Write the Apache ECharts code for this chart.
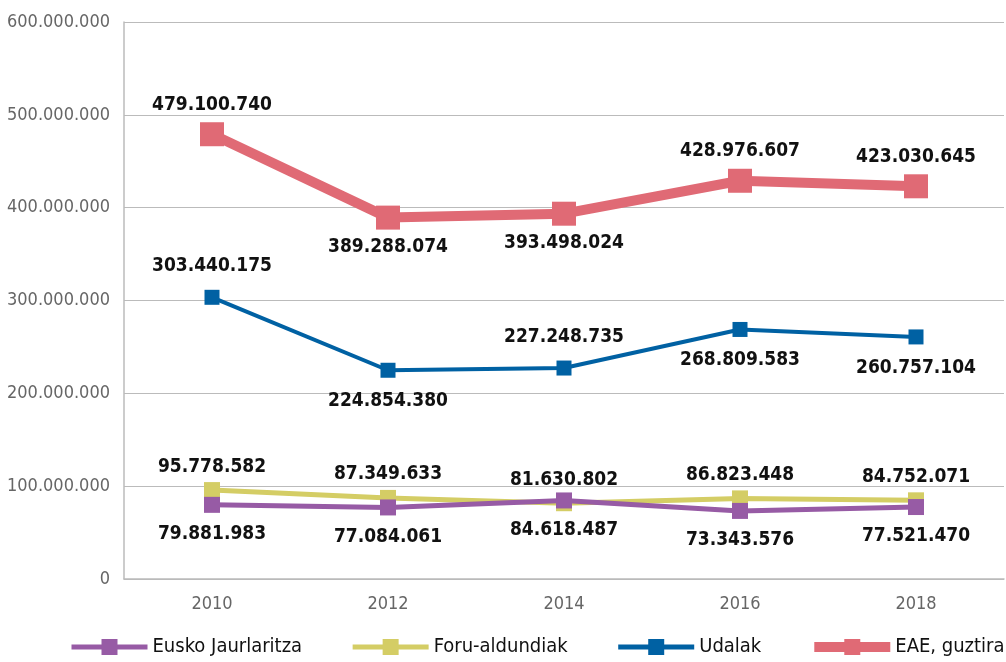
<!DOCTYPE html>
<html>
<head>
	<meta http-equiv="Content-Type" content="text/html;charset=UTF-8">
	<title>EAE</title>
	<script type="text/javascript" src="https://cdn.jsdelivr.net/npm/echarts@6.0.0/dist/echarts.min.js"></script>
	<style>
		html, body { margin: 0; padding: 0; background: #fff; }
		#chart { width: 1006px; height: 662px; }
	</style>
</head>
<body>
	<div id="chart"></div>

	<script type="text/javascript">
		var years = ['2010', '2012', '2014', '2016', '2018'];
		var eusko = [79881983, 77084061, 84618487, 73343576, 77521470];
		var foru = [95778582, 87349633, 81630802, 86823448, 84752071];
		var udalak = [303440175, 224854380, 227248735, 268809583, 260757104];
		var guztira = [479100740, 389288074, 393498024, 428976607, 423030645];
		// where the value labels sit, per point
		var udalakPos = ['top', 'bottom', 'top', 'bottom', 'bottom'];
		var guztiraPos = ['top', 'bottom', 'bottom', 'top', 'top'];

		var font = '"DejaVu Sans Condensed", "DejaVu Sans", sans-serif';

		function dots(v) {
			return String(v).replace(/\B(?=(\d{3})+(?!\d))/g, '.');
		}

		function withPos(values, pos) {
			return values.map(function (v, i) {
				return { value: v, label: { position: pos[i] } };
			});
		}

		function lbl(pos, dist) {
			return {
				show: true,
				position: pos,
				distance: dist,
				fontFamily: font,
				fontWeight: 'bold',
				fontSize: 19,
				color: '#111',
				formatter: function (p) { return dots(p.value); }
			};
		}

		var chart = echarts.init(document.getElementById('chart'));

		var option = {
			animation: false,
			textStyle: { fontFamily: font },
			grid: { left: 124, right: 2, top: 22, bottom: 83 },
			legend: {
				bottom: 0,
				left: 64,
				width: 1400,
				itemWidth: 76,
				itemHeight: 20,
				itemGap: 48,
				textStyle: { fontFamily: font, fontSize: 20, color: '#111' },
				data: [
					{ name: 'Eusko Jaurlaritza', lineStyle: { width: 5 } },
					{ name: 'Foru-aldundiak', lineStyle: { width: 5 } },
					{ name: 'Udalak', lineStyle: { width: 5 } },
					{ name: 'EAE, guztira', lineStyle: { width: 10 } }
				]
			},
			xAxis: {
				type: 'category',
				data: years,
				boundaryGap: true,
				axisLine: { lineStyle: { color: '#bbb', width: 1.5 } },
				axisTick: { show: false },
				axisLabel: { fontFamily: font, fontSize: 18, color: '#666', margin: 16 }
			},
			yAxis: {
				type: 'value',
				min: 0,
				max: 600000000,
				interval: 100000000,
				axisLine: { show: true, lineStyle: { color: '#bbb', width: 1.5 } },
				axisTick: { show: false },
				splitLine: { lineStyle: { color: '#bbb', width: 1 } },
				axisLabel: {
					fontFamily: font, fontSize: 18, color: '#666', margin: 14,
					formatter: function (v) { return dots(v); }
				}
			},
			series: [
				{
					name: 'Eusko Jaurlaritza',
					type: 'line',
					data: eusko,
					symbol: 'rect',
					symbolSize: 16,
					color: '#975ba5',
					lineStyle: { width: 5 },
					label: lbl('bottom', 12),
					z: 4
				},
				{
					name: 'Foru-aldundiak',
					type: 'line',
					data: foru,
					symbol: 'rect',
					symbolSize: 16,
					color: '#d4cd65',
					lineStyle: { width: 5 },
					label: lbl('top', 6),
					z: 3
				},
				{
					name: 'Udalak',
					type: 'line',
					data: withPos(udalak, udalakPos),
					symbol: 'rect',
					symbolSize: 15,
					color: '#0061a3',
					lineStyle: { width: 4 },
					label: lbl('top', 14),
					z: 5
				},
				{
					name: 'EAE, guztira',
					type: 'line',
					data: withPos(guztira, guztiraPos),
					symbol: 'rect',
					symbolSize: 24,
					color: '#e06a75',
					lineStyle: { width: 10 },
					label: lbl('top', 8),
					z: 6
				}
			]
		};

		chart.setOption(option);
	</script>
</body>
</html>
